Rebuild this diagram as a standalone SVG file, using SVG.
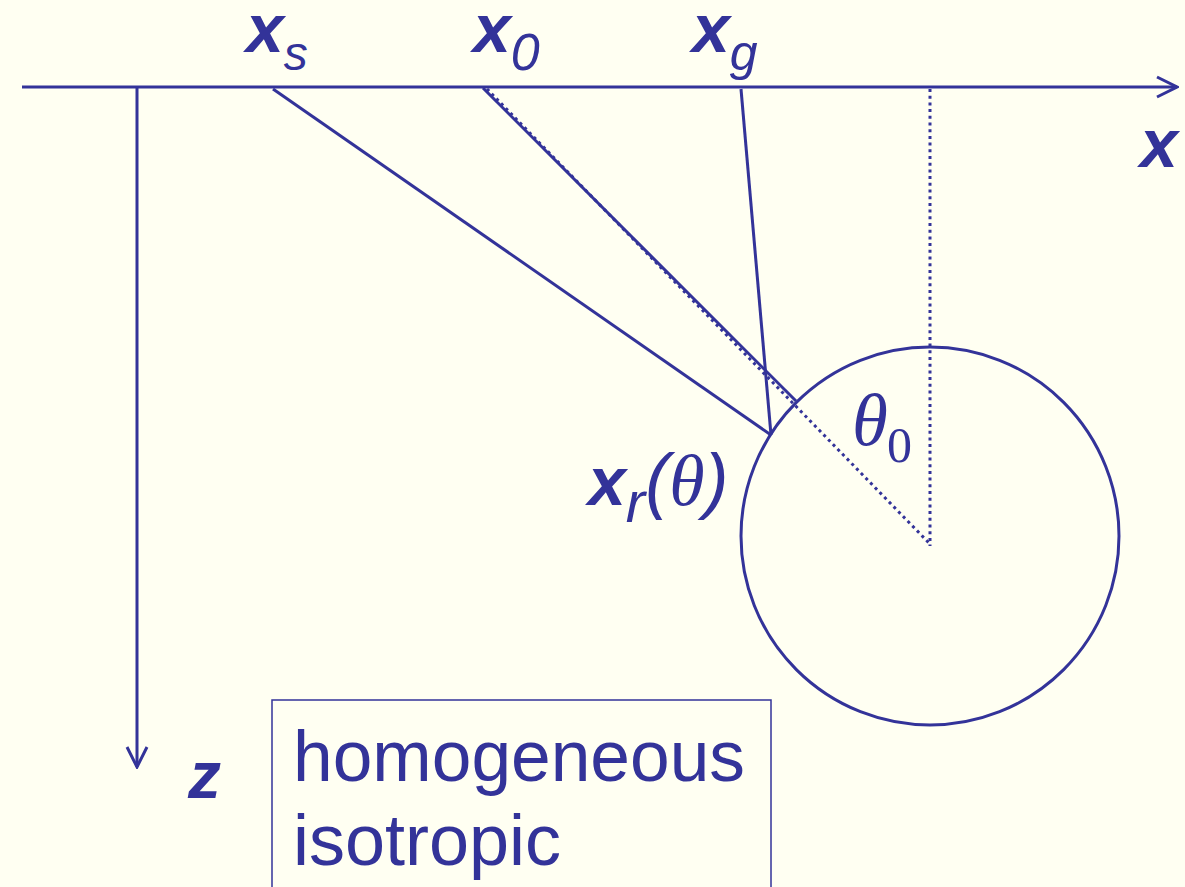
<svg xmlns="http://www.w3.org/2000/svg" width="1185" height="887" viewBox="0 0 1185 887">
<style>
.ln{stroke:#333399;stroke-width:3;fill:none}
.dot{stroke:#333399;stroke-width:3;fill:none;stroke-dasharray:3 3.7}
.t{fill:#333399;font-family:"Liberation Sans",Arial,sans-serif;font-style:italic}
.b{font-weight:bold;font-size:68px}
.s{fill:#333399;font-family:"Liberation Serif","Times New Roman",serif}
</style>
<defs>
<marker id="arr" viewBox="0 0 24 24" refX="22" refY="12" markerWidth="24" markerHeight="24" markerUnits="userSpaceOnUse" orient="auto">
<path d="M2,2 L22,12 L2,22" fill="none" stroke="#333399" stroke-width="3"/>
</marker>
</defs>
<rect width="1185" height="887" fill="#FFFFF2"/>
<g id="axes">
<line class="ln" x1="22" y1="87" x2="1177" y2="87" marker-end="url(#arr)"/>
<line class="ln" x1="137" y1="87" x2="137" y2="767" marker-end="url(#arr)"/>
<text class="t b" x="1140" y="167">x</text>
<text class="t" x="188" y="798" font-size="66" font-weight="bold">z</text>
</g>
<g id="sphere">
<circle class="ln" cx="930" cy="536" r="189"/>
</g>
<g id="connectors">
<line class="ln" x1="273" y1="89" x2="771" y2="435"/>
<line class="ln" x1="483" y1="88" x2="796" y2="401"/>
<line class="ln" x1="741" y1="89" x2="771" y2="435"/>
<line class="dot" x1="487" y1="89" x2="931" y2="545"/>
<line class="dot" x1="930" y1="89" x2="930" y2="546"/>
</g>
<g id="label-xs">
<text class="t" x="246" y="52" font-size="48"><tspan class="b">x</tspan><tspan dy="18">s</tspan></text>
</g>
<g id="label-x0">
<text class="t" x="473" y="52" font-size="52"><tspan class="b">x</tspan><tspan dy="18">0</tspan></text>
</g>
<g id="label-xg">
<text class="t" x="692" y="52" font-size="50"><tspan class="b">x</tspan><tspan dy="18">g</tspan></text>
</g>
<g id="label-theta0">
<text class="s" x="852" y="445" font-size="73" font-style="italic">θ</text>
<text class="s" x="887" y="462" font-size="50">0</text>
</g>
<g id="label-xr">
<text class="t" x="588" y="505" font-size="72"><tspan class="b">x</tspan><tspan font-size="58" dy="17">r</tspan><tspan dy="-17">(</tspan><tspan class="s" font-style="italic">θ</tspan>)</text>
</g>
<g id="box">
<rect x="272" y="700" width="499" height="200" fill="none" stroke="#333399" stroke-width="1.5"/>
<text x="293" y="781" font-size="72" fill="#333399" font-family="'Liberation Sans',Arial,sans-serif" textLength="452" lengthAdjust="spacingAndGlyphs">homogeneous</text>
<text x="293" y="865" font-size="72" fill="#333399" font-family="'Liberation Sans',Arial,sans-serif">isotropic</text>
</g>
</svg>
